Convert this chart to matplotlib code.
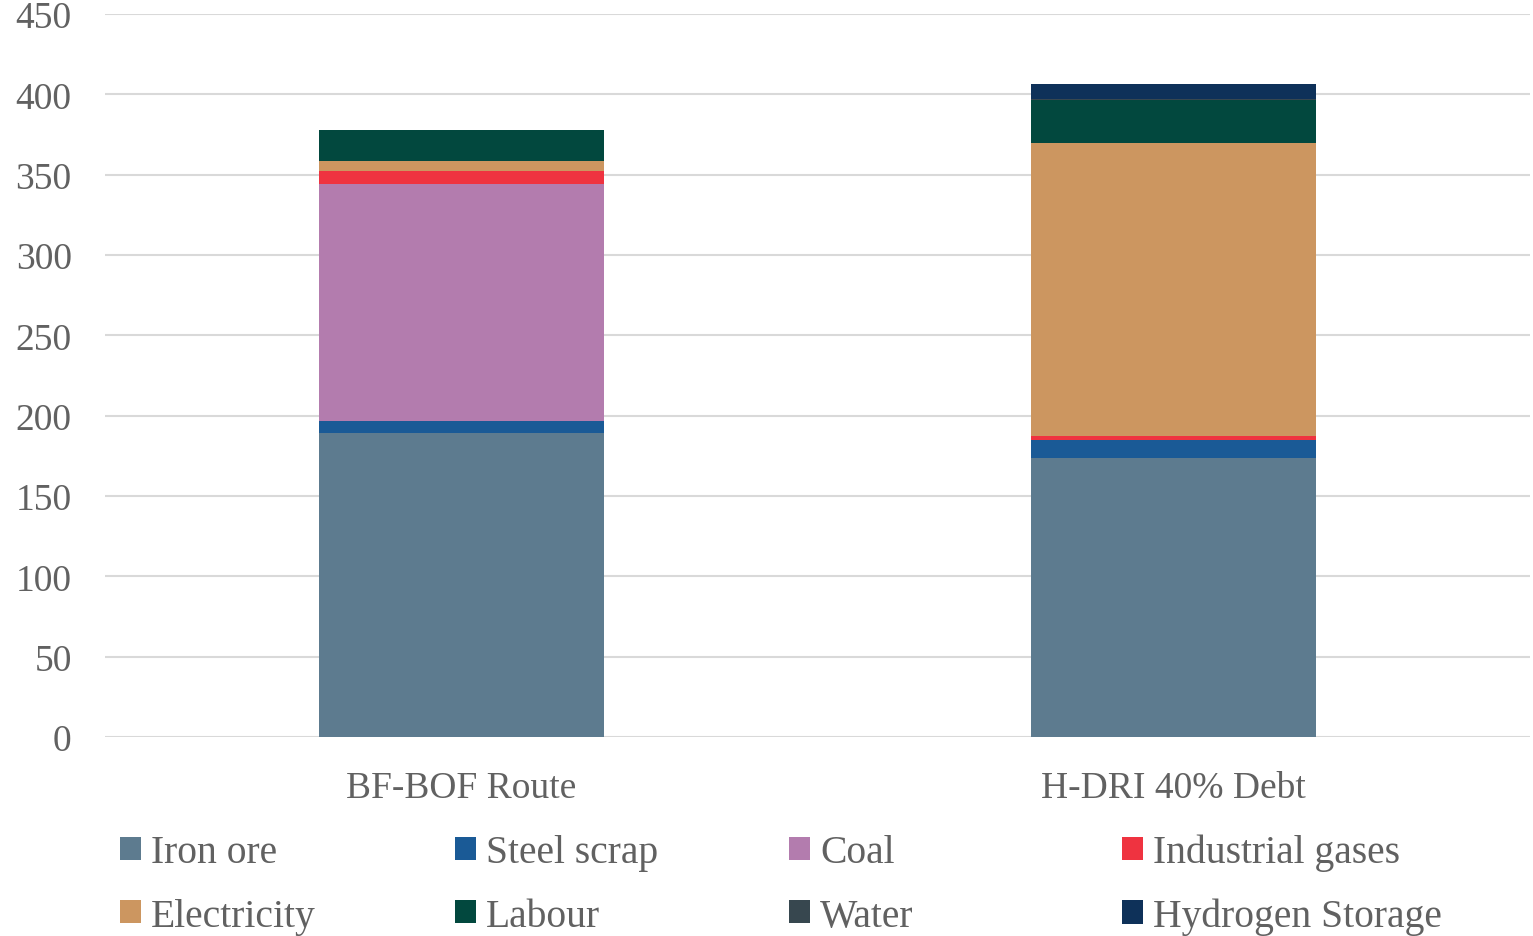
import matplotlib
matplotlib.use('Agg')
from matplotlib import pyplot
from matplotlib.patches import Patch
import numpy

pyplot.rcParams['font.family'] = ['Liberation Serif', 'DejaVu Serif']

routes = ['BF-BOF Route', 'H-DRI 40% Debt']
components = ['Iron ore', 'Steel scrap', 'Coal', 'Industrial gases',
              'Electricity', 'Labour', 'Water', 'Hydrogen Storage']
iron_ore = [189.5, 173.5]
steel_scrap = [7.2, 11.1]
coal = [147.5, 0.0]
industrial_gases = [7.8, 2.6]
electricity = [6.5, 182.4]
labour = [19.0, 27.0]
water = [0.2, 0.2]
hydrogen_storage = [0.0, 9.8]

series = [iron_ore, steel_scrap, coal, industrial_gases,
          electricity, labour, water, hydrogen_storage]
colors = ['#5D7B8F', '#1A5A96', '#B37CAE', '#EF3340',
          '#CC9660', '#02483E', '#37474F', '#0E3159']
text_color = '#616161'

fig = pyplot.figure(figsize=(15.33, 9.37), dpi=100)
ax = fig.add_axes([105 / 1533, 1 - 738 / 937, 1425 / 1533, 723 / 937])

x = numpy.arange(len(routes))
bottom = numpy.zeros(len(routes))
for values, color, name in zip(series, colors, components):
    ax.bar(x, values, width=0.4, bottom=bottom, color=color, label=name, zorder=3)
    bottom += numpy.array(values)

ax.set_xlim(-0.5, 1.5)
ax.set_ylim(0, 450)
ax.set_yticks(range(0, 451, 50))
ax.set_xticks(x)
ax.set_xticklabels(routes)
ax.grid(axis='y', color='#D9D9D9', linewidth=1.5, zorder=0)
ax.set_axisbelow(True)
for side in ['top', 'right', 'left', 'bottom']:
    ax.spines[side].set_visible(False)
ax.tick_params(axis='y', length=0, pad=24, labelsize=27, labelcolor=text_color)
ax.tick_params(axis='x', length=0, pad=24, labelsize=27, labelcolor=text_color)

# four legend columns, each with two entries, equally spaced like the original
col_x = [120, 455, 789, 1122]
for i, cx in enumerate(col_x):
    handles = [Patch(facecolor=colors[i]), Patch(facecolor=colors[i + 4])]
    labels = [components[i], components[i + 4]]
    fig.legend(handles, labels, loc='center left',
               bbox_to_anchor=(cx / 1533, 1 - 885.5 / 937),
               frameon=False, fontsize=28.5, labelcolor=text_color,
               handlelength=0.53, handleheight=0.53, handletextpad=0.25,
               labelspacing=0.66, borderpad=0, borderaxespad=0)

fig.savefig('out.png')
